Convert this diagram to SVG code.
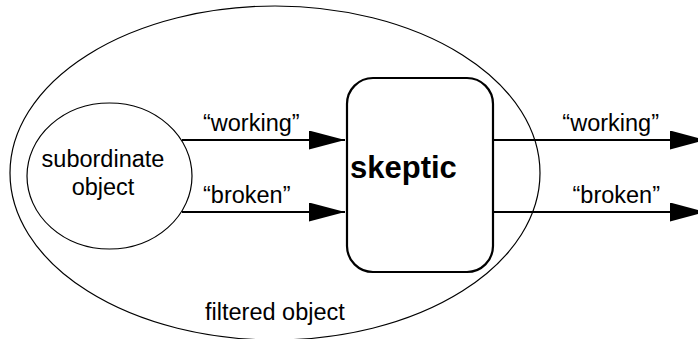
<svg xmlns="http://www.w3.org/2000/svg" width="698" height="339" viewBox="0 0 698 339">
  <style>
    .outline { fill: none; stroke: #000; stroke-width: 1.2; }
    .box { fill: #fff; stroke: #000; stroke-width: 2.2; }
    .wire { fill: none; stroke: #000; stroke-width: 2.2; }
    .label { font-family: "Liberation Sans", Arial, sans-serif; font-size: 23.5px; fill: #000; }
    .title { font-family: "Liberation Sans", Arial, sans-serif; font-size: 31px; font-weight: bold; fill: #000; }
  </style>
  <defs>
    <marker id="arrow" markerUnits="userSpaceOnUse" markerWidth="37" markerHeight="20" refX="36" refY="9.5" orient="auto">
      <path d="M0,0 L36,9.5 L0,19 Z" fill="#000"/>
    </marker>
  </defs>
  <rect width="698" height="339" fill="#fff"/>

  <!-- wrapper around subordinate and skeptic -->
  <g id="filtered-object">
    <ellipse class="outline" cx="275" cy="173" rx="265" ry="167"/>
    <text class="label" x="205" y="320">filtered object</text>
  </g>

  <g id="subordinate-object">
    <ellipse class="outline" cx="109.5" cy="176" rx="82.5" ry="73"/>
    <text class="label" x="103" y="167" text-anchor="middle">subordinate</text>
    <text class="label" x="103" y="195" text-anchor="middle">object</text>
  </g>

  <g id="skeptic">
    <rect class="box" x="347" y="78" width="146" height="194" rx="26" ry="26"/>
    <text class="title" x="350" y="178">skeptic</text>
  </g>

  <g id="connectors">
    <line class="wire" x1="182" y1="140" x2="345" y2="140" marker-end="url(#arrow)"/>
    <line class="wire" x1="182" y1="212" x2="345" y2="212" marker-end="url(#arrow)"/>
    <line class="wire" x1="493" y1="140" x2="706" y2="140" marker-end="url(#arrow)"/>
    <line class="wire" x1="493" y1="212" x2="706" y2="212" marker-end="url(#arrow)"/>
    <text class="label" x="203" y="131">“working”</text>
    <text class="label" x="203" y="203">“broken”</text>
    <text class="label" x="659" y="131" text-anchor="end">“working”</text>
    <text class="label" x="660" y="203" text-anchor="end">“broken”</text>
  </g>
</svg>
